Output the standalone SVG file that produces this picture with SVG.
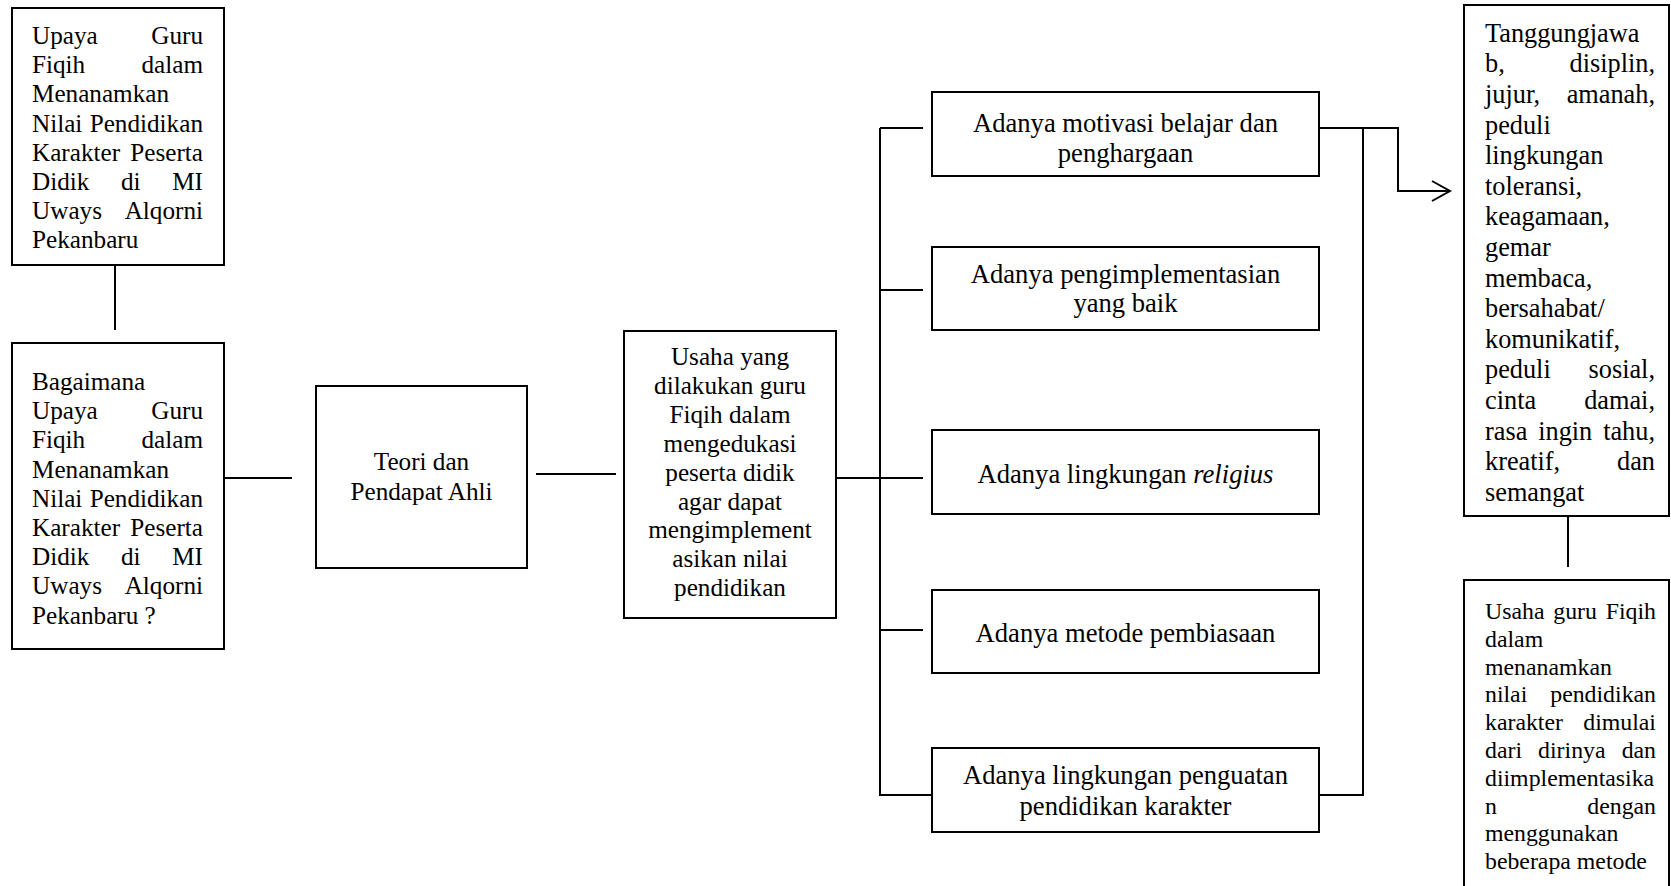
<svg xmlns="http://www.w3.org/2000/svg" width="1671" height="886" viewBox="0 0 1671 886">
<style>
.box{fill:#fff;stroke:#000;stroke-width:2}
.ln{fill:none;stroke:#000;stroke-width:2}
text{font-family:"Liberation Serif","Times New Roman",serif;fill:#000}
.f25{font-size:25.2px}
.f26{font-size:26.6px}
.fr{font-size:26.3px}
.fs{font-size:23.8px}
.c{text-anchor:middle}
.e{text-anchor:end}
</style>
<defs>
<marker id="arr" viewBox="0 0 22 24" refX="20" refY="12" markerWidth="22" markerHeight="24" markerUnits="userSpaceOnUse" orient="auto">
<path d="M2,2 L20,12 L2,22" fill="none" stroke="#000" stroke-width="2"/>
</marker>
</defs>
<rect width="1671" height="886" fill="#fff"/>

<g id="connectors">
<line class="ln" x1="115" y1="265" x2="115" y2="330"/>
<line class="ln" x1="224" y1="478" x2="292" y2="478"/>
<line class="ln" x1="536" y1="474" x2="616" y2="474"/>
<line class="ln" x1="836" y1="478" x2="923" y2="478"/>
<line class="ln" x1="880" y1="128" x2="880" y2="795"/>
<line class="ln" x1="880" y1="128" x2="923" y2="128"/>
<line class="ln" x1="880" y1="290" x2="923" y2="290"/>
<line class="ln" x1="880" y1="630" x2="923" y2="630"/>
<line class="ln" x1="879" y1="795" x2="932" y2="795"/>
<line class="ln" x1="1319" y1="128" x2="1399" y2="128"/>
<line class="ln" x1="1363" y1="128" x2="1363" y2="796"/>
<line class="ln" x1="1319" y1="795" x2="1364" y2="795"/>
<polyline class="ln" points="1398,127 1398,191 1450,191" marker-end="url(#arr)"/>
<line class="ln" x1="1568" y1="516" x2="1568" y2="567"/>
</g>

<g id="node-upaya">
<rect class="box" x="12" y="8" width="212" height="257"/>
<text class="f25"><tspan x="32" y="44">Upaya</tspan><tspan class="e" x="203" y="44">Guru</tspan></text>
<text class="f25"><tspan x="32" y="73.2">Fiqih</tspan><tspan class="e" x="203" y="73.2">dalam</tspan></text>
<text class="f25" x="32" y="102.4">Menanamkan</text>
<text class="f25"><tspan x="32" y="131.6">Nilai</tspan><tspan class="e" x="203" y="131.6">Pendidikan</tspan></text>
<text class="f25"><tspan x="32" y="160.8">Karakter</tspan><tspan class="e" x="203" y="160.8">Peserta</tspan></text>
<text class="f25"><tspan x="32" y="190">Didik</tspan><tspan x="121" y="190">di</tspan><tspan class="e" x="203" y="190">MI</tspan></text>
<text class="f25"><tspan x="32" y="219.2">Uways</tspan><tspan class="e" x="203" y="219.2">Alqorni</tspan></text>
<text class="f25" x="32" y="248.4">Pekanbaru</text>
</g>

<g id="node-bagaimana">
<rect class="box" x="12" y="343" width="212" height="306"/>
<text class="f25" x="32" y="390">Bagaimana</text>
<text class="f25"><tspan x="32" y="419.2">Upaya</tspan><tspan class="e" x="203" y="419.2">Guru</tspan></text>
<text class="f25"><tspan x="32" y="448.4">Fiqih</tspan><tspan class="e" x="203" y="448.4">dalam</tspan></text>
<text class="f25" x="32" y="477.6">Menanamkan</text>
<text class="f25"><tspan x="32" y="506.8">Nilai</tspan><tspan class="e" x="203" y="506.8">Pendidikan</tspan></text>
<text class="f25"><tspan x="32" y="536">Karakter</tspan><tspan class="e" x="203" y="536">Peserta</tspan></text>
<text class="f25"><tspan x="32" y="565.2">Didik</tspan><tspan x="121" y="565.2">di</tspan><tspan class="e" x="203" y="565.2">MI</tspan></text>
<text class="f25"><tspan x="32" y="594.4">Uways</tspan><tspan class="e" x="203" y="594.4">Alqorni</tspan></text>
<text class="f25" x="32" y="623.6">Pekanbaru ?</text>
</g>

<g id="node-teori">
<rect class="box" x="316" y="386" width="211" height="182"/>
<text class="f25 c" x="421.5" y="470">Teori dan</text>
<text class="f25 c" x="421.5" y="499.5">Pendapat Ahli</text>
</g>

<g id="node-usaha">
<rect class="box" x="624" y="331" width="212" height="287"/>
<text class="f25 c" x="730" y="365">Usaha yang</text>
<text class="f25 c" x="730" y="393.9">dilakukan guru</text>
<text class="f25 c" x="730" y="422.8">Fiqih dalam</text>
<text class="f25 c" x="730" y="451.7">mengedukasi</text>
<text class="f25 c" x="730" y="480.6">peserta didik</text>
<text class="f25 c" x="730" y="509.5">agar dapat</text>
<text class="f25 c" x="730" y="538.4">mengimplement</text>
<text class="f25 c" x="730" y="567.3">asikan nilai</text>
<text class="f25 c" x="730" y="596.2">pendidikan</text>
</g>

<g id="node-motivasi">
<rect class="box" x="932" y="92" width="387" height="84"/>
<text class="f26 c" x="1125.5" y="131.5">Adanya motivasi belajar dan</text>
<text class="f26 c" x="1125.5" y="162">penghargaan</text>
</g>

<g id="node-implementasi">
<rect class="box" x="932" y="247" width="387" height="83"/>
<text class="f26 c" x="1125.5" y="282.5">Adanya pengimplementasian</text>
<text class="f26 c" x="1125.5" y="312">yang baik</text>
</g>

<g id="node-religius">
<rect class="box" x="932" y="430" width="387" height="84"/>
<text class="f26 c" x="1125.5" y="483">Adanya lingkungan <tspan font-style="italic">religius</tspan></text>
</g>

<g id="node-pembiasaan">
<rect class="box" x="932" y="590" width="387" height="83"/>
<text class="f26 c" x="1125.5" y="642">Adanya metode pembiasaan</text>
</g>

<g id="node-penguatan">
<rect class="box" x="932" y="748" width="387" height="84"/>
<text class="f26 c" x="1125.5" y="784">Adanya lingkungan penguatan</text>
<text class="f26 c" x="1125.5" y="814.6">pendidikan karakter</text>
</g>

<g id="node-nilai">
<rect class="box" x="1464" y="5" width="205" height="511"/>
<text class="fr" x="1485" y="41.7">Tanggungjawa</text>
<text class="fr"><tspan x="1485" y="72.3">b,</tspan><tspan class="e" x="1655" y="72.3">disiplin,</tspan></text>
<text class="fr"><tspan x="1485" y="102.9">jujur,</tspan><tspan class="e" x="1655" y="102.9">amanah,</tspan></text>
<text class="fr" x="1485" y="133.5">peduli</text>
<text class="fr" x="1485" y="164.1">lingkungan</text>
<text class="fr" x="1485" y="194.7">toleransi,</text>
<text class="fr" x="1485" y="225.3">keagamaan,</text>
<text class="fr" x="1485" y="255.9">gemar</text>
<text class="fr" x="1485" y="286.5">membaca,</text>
<text class="fr" x="1485" y="317.1">bersahabat/</text>
<text class="fr" x="1485" y="347.7">komunikatif,</text>
<text class="fr"><tspan x="1485" y="378.3">peduli</tspan><tspan class="e" x="1655" y="378.3">sosial,</tspan></text>
<text class="fr"><tspan x="1485" y="408.9">cinta</tspan><tspan class="e" x="1655" y="408.9">damai,</tspan></text>
<text class="fr"><tspan x="1485" y="439.5">rasa</tspan><tspan x="1538.2" y="439.5">ingin</tspan><tspan class="e" x="1655" y="439.5">tahu,</tspan></text>
<text class="fr"><tspan x="1485" y="470.1">kreatif,</tspan><tspan class="e" x="1655" y="470.1">dan</tspan></text>
<text class="fr" x="1485" y="500.7">semangat</text>
</g>

<g id="node-kesimpulan">
<rect class="box" x="1464" y="580" width="205" height="330"/>
<text class="fs"><tspan x="1485" y="619">Usaha</tspan><tspan x="1553.3" y="619">guru</tspan><tspan class="e" x="1656" y="619">Fiqih</tspan></text>
<text class="fs" x="1485" y="646.8">dalam</text>
<text class="fs" x="1485" y="674.6">menanamkan</text>
<text class="fs"><tspan x="1485" y="702.4">nilai</tspan><tspan class="e" x="1656" y="702.4">pendidikan</tspan></text>
<text class="fs"><tspan x="1485" y="730.2">karakter</tspan><tspan class="e" x="1656" y="730.2">dimulai</tspan></text>
<text class="fs"><tspan x="1485" y="758">dari</tspan><tspan x="1538.1" y="758">dirinya</tspan><tspan class="e" x="1656" y="758">dan</tspan></text>
<text class="fs" x="1485" y="785.8">diimplementasika</text>
<text class="fs"><tspan x="1485" y="813.6">n</tspan><tspan class="e" x="1656" y="813.6">dengan</tspan></text>
<text class="fs" x="1485" y="841.4">menggunakan</text>
<text class="fs" x="1485" y="869.2">beberapa metode</text>
</g>
</svg>
